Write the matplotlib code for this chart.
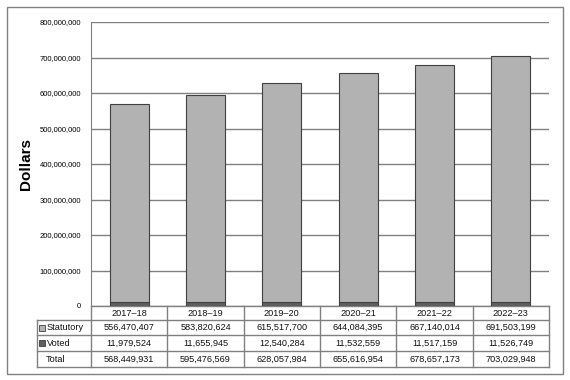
import numpy as np
import matplotlib
matplotlib.use("Agg")
import matplotlib.pyplot as plt
import matplotlib.ticker as mtick
from matplotlib.patches import Rectangle

years = ['2017\u201318', '2018\u201319', '2019\u201320', '2020\u201321', '2021\u201322', '2022\u201323']
statutory = [556470407, 583820624, 615517700, 644084395, 667140014, 691503199]
voted = [11979524, 11655945, 12540284, 11532559, 11517159, 11526749]
total = [568449931, 595476569, 628057984, 655616954, 678657173, 703029948]
row_names = ['Statutory', 'Voted', 'Total']

c_stat = '#b2b2b2'
c_voted = '#5f5f5f'
c_edge = '#404040'
c_line = '#808080'

plt.rcParams['font.family'] = ['Liberation Sans', 'DejaVu Sans']

W, H = 570, 380
fig = plt.figure(figsize=(W / 100, H / 100), dpi=100)

# outer border
fig.add_artist(Rectangle((7 / W, 6 / H), 556 / W, 367 / H, transform=fig.transFigure,
                         fill=False, edgecolor=c_line, linewidth=1))

left, right, top, bottom = 91, 549, 22, 306
ax = fig.add_axes([left / W, 1 - bottom / H, (right - left) / W, (bottom - top) / H])

x = np.arange(len(years))
ax.bar(x, voted, width=0.51, color=c_voted, edgecolor=c_edge, linewidth=0.8, zorder=3)
ax.bar(x, statutory, width=0.51, bottom=voted, color=c_stat, edgecolor=c_edge, linewidth=0.8, zorder=3)

ax.set_xlim(-0.5, len(years) - 0.5)
ax.set_ylim(0, 800000000)
ax.set_yticks(np.arange(0, 800000001, 100000000))
ax.yaxis.set_major_formatter(mtick.FuncFormatter(lambda v, p: '{:,.0f}'.format(v)))
ax.tick_params(axis='y', length=0, pad=7, labelsize=5.5)
ax.set_xticks([])
ax.grid(axis='y', color=c_line, linewidth=1, zorder=0)
for s in ['top', 'right', 'bottom']:
    ax.spines[s].set_visible(False)
ax.spines['left'].set_color(c_line)
ax.set_ylabel('Dollars', fontsize=11, fontweight='bold', labelpad=5)

# data table under the plot, in axes coordinates
ph = bottom - top
rows_px = [306, 320, 335, 351, 367]
ry = [-(p - bottom) / ph for p in rows_px]
lab_x = (37 - left) / (right - left)
n = len(years)
kw = dict(transform=ax.transAxes, clip_on=False, color=c_line, linewidth=1)

# horizontal lines
ax.plot([0, 1], [ry[0], ry[0]], **kw)
for yy in ry[1:]:
    ax.plot([lab_x, 1], [yy, yy], **kw)
# vertical lines
for i in range(n + 1):
    ax.plot([i / n, i / n], [ry[0], ry[-1]], **kw)
ax.plot([lab_x, lab_x], [ry[1], ry[-1]], **kw)

fs = 6.6
tkw = dict(transform=ax.transAxes, ha='center', va='center', fontsize=fs, color='#111111')
for i, yr in enumerate(years):
    cx = (i + 0.5) / n
    ax.text(cx, (ry[0] + ry[1]) / 2, yr, **tkw)
    for r, vals in enumerate([statutory, voted, total]):
        ax.text(cx, (ry[r + 1] + ry[r + 2]) / 2, '{:,}'.format(vals[i]), **tkw)

# row labels with legend keys
sq = 6
for r, name in enumerate(row_names):
    cy = (ry[r + 1] + ry[r + 2]) / 2
    if r < 2:
        key_x = (39 - left) / (right - left)
        ax.add_patch(Rectangle((key_x, cy - sq / 2 / ph), sq / (right - left), sq / ph,
                               transform=ax.transAxes, clip_on=False,
                               facecolor=[c_stat, c_voted][r], edgecolor=c_edge, linewidth=0.6))
        ax.text((47 - left) / (right - left), cy, name, transform=ax.transAxes,
                ha='left', va='center', fontsize=fs, color='#111111')
    else:
        ax.text((46 - left) / (right - left), cy, name, transform=ax.transAxes,
                ha='left', va='center', fontsize=fs, color='#111111')

plt.savefig('out.png', dpi=100)
